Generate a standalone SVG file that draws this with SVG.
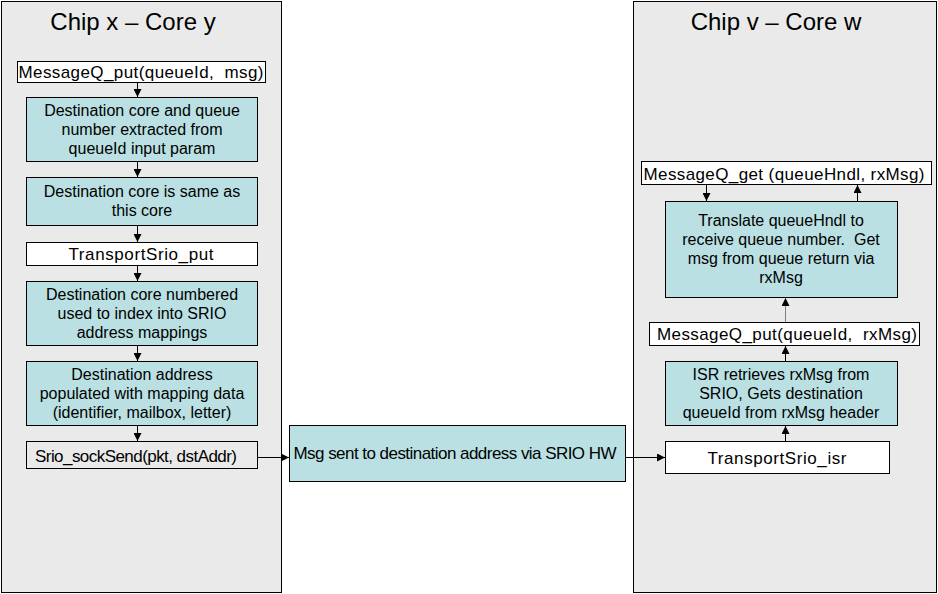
<svg xmlns="http://www.w3.org/2000/svg" width="938" height="594" viewBox="0 0 938 594">
<style>
.panel{fill:#eaeaea;stroke:#000;stroke-width:1}
.w{fill:#fff;stroke:#000;stroke-width:1}
.t{fill:#bae0e3;stroke:#000;stroke-width:1}
.g{fill:#eaeaea;stroke:#000;stroke-width:1}
text{font-family:"Liberation Sans",Arial,sans-serif;font-size:16px;fill:#000;text-anchor:middle;white-space:pre}
.title{font-size:24px}
.l{font-size:17px}
.c{stroke:#000;stroke-width:1;fill:none;marker-end:url(#ah)}
.cg{stroke:#808080;stroke-width:1;fill:none;marker-end:url(#ah)}
</style>
<defs>
<marker id="ah" viewBox="0 0 10 10" refX="10" refY="5" markerWidth="8" markerHeight="8" markerUnits="userSpaceOnUse" orient="auto">
<path d="M0,0 L10,5 L0,10 z" fill="#000"/>
</marker>
</defs>
<rect width="938" height="594" fill="#fff"/>
<g id="panel-left">
<rect class="panel" x="1.5" y="1.5" width="280" height="591"/>
<text class="title" x="133" y="30">Chip x – Core y</text>
</g>
<g id="panel-right">
<rect class="panel" x="633.5" y="1.5" width="303" height="591"/>
<text class="title" x="776" y="30">Chip v – Core w</text>
</g>
<g id="n-put">
<rect class="w" x="17.5" y="61.5" width="248" height="21"/>
<text class="l" x="141" y="78" textLength="245" lengthAdjust="spacing">MessageQ_put(queueId,  msg)</text>
</g>
<g id="n-extract">
<rect class="t" x="26.5" y="97.5" width="231" height="64"/>
<text x="142" y="116">Destination core and queue</text>
<text x="142" y="135">number extracted from</text>
<text x="142" y="154">queueId input param</text>
</g>
<g id="n-same">
<rect class="t" x="26.5" y="177.5" width="231" height="48"/>
<text x="142" y="197">Destination core is same as</text>
<text x="142" y="216">this core</text>
</g>
<g id="n-tput">
<rect class="w" x="26.5" y="242.5" width="231" height="23"/>
<text class="l" x="141" y="260" textLength="145" lengthAdjust="spacing">TransportSrio_put</text>
</g>
<g id="n-index">
<rect class="t" x="26.5" y="281.5" width="231" height="64"/>
<text x="142" y="300">Destination core numbered</text>
<text x="142" y="319">used to index into SRIO</text>
<text x="142" y="338">address mappings</text>
</g>
<g id="n-addr">
<rect class="t" x="26.5" y="361.5" width="231" height="64"/>
<text x="142" y="380">Destination address</text>
<text x="142" y="399">populated with mapping data</text>
<text x="142" y="418">(identifier, mailbox, letter)</text>
</g>
<g id="n-send">
<rect class="g" x="26.5" y="441.5" width="231" height="27"/>
<text class="l" x="136" y="462" textLength="202" lengthAdjust="spacing">Srio_sockSend(pkt, dstAddr)</text>
</g>
<g id="n-hw">
<rect class="t" x="289.5" y="425.5" width="336" height="56"/>
<text class="l" x="455" y="459" textLength="323" lengthAdjust="spacing">Msg sent to destination address via SRIO HW</text>
</g>
<g id="n-isr">
<rect class="w" x="665.5" y="441.5" width="224" height="32"/>
<text class="l" x="777" y="464" textLength="139" lengthAdjust="spacing">TransportSrio_isr</text>
</g>
<g id="n-retrieve">
<rect class="t" x="665.5" y="361.5" width="232" height="64"/>
<text x="781" y="380">ISR retrieves rxMsg from</text>
<text x="781" y="399">SRIO, Gets destination</text>
<text x="781" y="418">queueId from rxMsg header</text>
</g>
<g id="n-put2">
<rect class="w" x="649.5" y="322.5" width="270" height="23"/>
<text class="l" x="787" y="340" textLength="260" lengthAdjust="spacing">MessageQ_put(queueId,  rxMsg)</text>
</g>
<g id="n-translate">
<rect class="t" x="665.5" y="201.5" width="232" height="96"/>
<text x="781" y="226">Translate queueHndl to</text>
<text x="781" y="245">receive queue number.  Get</text>
<text x="781" y="264">msg from queue return via</text>
<text x="781" y="283">rxMsg</text>
</g>
<g id="n-get">
<rect class="w" x="641.5" y="161.5" width="290" height="23"/>
<text class="l" x="784" y="180" textLength="281" lengthAdjust="spacing">MessageQ_get (queueHndl, rxMsg)</text>
</g>
<g id="connectors">
<line class="c" x1="137.5" y1="83" x2="137.5" y2="97"/>
<line class="c" x1="137.5" y1="162" x2="137.5" y2="177"/>
<line class="c" x1="137.5" y1="226" x2="137.5" y2="242"/>
<line class="c" x1="137.5" y1="266" x2="137.5" y2="281"/>
<line class="c" x1="137.5" y1="346" x2="137.5" y2="361"/>
<line class="c" x1="137.5" y1="426" x2="137.5" y2="441"/>
<line class="c" x1="258" y1="457.5" x2="289" y2="457.5"/>
<line class="c" x1="626" y1="457.5" x2="665" y2="457.5"/>
<line class="c" x1="785.5" y1="441" x2="785.5" y2="426"/>
<line class="c" x1="785.5" y1="361" x2="785.5" y2="346"/>
<line class="cg" x1="785.5" y1="322" x2="785.5" y2="298"/>
<line class="c" x1="706.5" y1="185" x2="706.5" y2="201"/>
<line class="c" x1="857.5" y1="201" x2="857.5" y2="185"/>
</g>
</svg>
